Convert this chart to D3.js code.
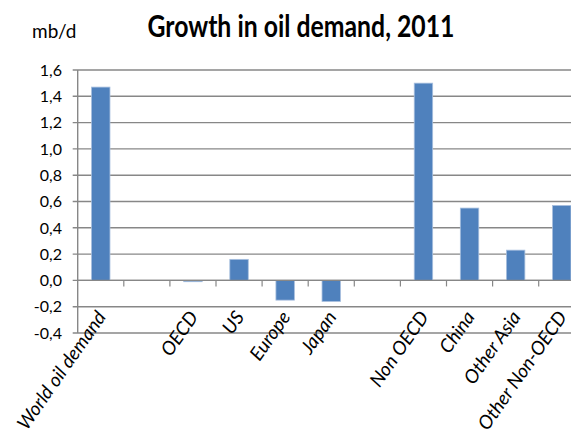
<!DOCTYPE html>
<html>
<head>
<meta charset="utf-8">
<script src="https://cdn.jsdelivr.net/npm/d3@7"></script>
<style>
  html, body { margin: 0; padding: 0; background: #ffffff; }
  svg { display: block; }
  text { font-family: Lato, "Open Sans", sans-serif; fill: #000; }
</style>
</head>
<body>
<svg id="chart" width="571" height="435"></svg>
<script>
// Growth in oil demand, 2011 (mb/d)
const categories = ["World oil demand", "", "OECD", "US", "Europe", "Japan", "", "Non OECD", "China", "Other Asia", "Other Non-OECD"];
const values = [1.47, null, -0.01, 0.16, -0.15, -0.16, null, 1.50, 0.55, 0.23, 0.57];
const yTicks = [-0.4, -0.2, 0.0, 0.2, 0.4, 0.6, 0.8, 1.0, 1.2, 1.4, 1.6];
const titleText = "Growth in oil demand, 2011";
const unitText = "mb/d";

const svg = d3.select("#chart");
const plotLeft = 77.7, plotRight = 584.8, plotTop = 70, plotBottom = 333;

const x = d3.scaleBand().domain(d3.range(categories.length)).range([plotLeft, plotRight]).padding(0);
const y = d3.scaleLinear().domain([-0.4, 1.6]).range([plotBottom, plotTop]);
const fmt = v => d3.format(".1f")(v).replace("−", "-").replace(".", ",");

const gridColor = "#878787";

// horizontal gridlines
svg.append("g")
  .selectAll("line")
  .data(yTicks)
  .join("line")
  .attr("x1", plotLeft - 5)
  .attr("x2", plotRight)
  .attr("y1", d => y(d))
  .attr("y2", d => y(d))
  .attr("stroke", gridColor)
  .attr("stroke-width", 1.4);

// value axis line
svg.append("line")
  .attr("x1", plotLeft).attr("x2", plotLeft)
  .attr("y1", y(1.6)).attr("y2", y(-0.4))
  .attr("stroke", gridColor).attr("stroke-width", 1.4);

// y tick labels
svg.append("g")
  .selectAll("text")
  .data(yTicks)
  .join("text")
  .attr("x", 62)
  .attr("y", d => y(d))
  .attr("dy", "0.36em")
  .attr("text-anchor", "end")
  .style("font-size", "16px")
  .text(fmt);

// category tick marks below the zero line
svg.append("g")
  .selectAll("line")
  .data(d3.range(1, categories.length))
  .join("line")
  .attr("x1", i => x(i))
  .attr("x2", i => x(i))
  .attr("y1", y(0))
  .attr("y2", y(0) + 6)
  .attr("stroke", gridColor)
  .attr("stroke-width", 1.2);

// bars
const barW = x.bandwidth() * 0.4;
svg.append("g")
  .selectAll("rect")
  .data(values.map((v, i) => ({ v, i })).filter(d => d.v !== null))
  .join("rect")
  .attr("x", d => x(d.i) + x.bandwidth() / 2 - barW / 2)
  .attr("width", barW)
  .attr("y", d => Math.min(y(d.v), y(0)))
  .attr("height", d => Math.abs(y(d.v) - y(0)))
  .attr("fill", "#4f81bd")
  .attr("stroke", "#a7bfde")
  .attr("stroke-width", 0.8);

// zero line (category axis)
svg.append("line")
  .attr("x1", plotLeft).attr("x2", plotRight)
  .attr("y1", y(0)).attr("y2", y(0))
  .attr("stroke", gridColor).attr("stroke-width", 1.4);

// rotated category labels
svg.append("g")
  .selectAll("text")
  .data(categories.map((c, i) => ({ c, i })).filter(d => d.c !== ""))
  .join("text")
  .attr("transform", d => `translate(${x(d.i) + x.bandwidth() / 2 + 6},317) rotate(-55)`)
  .attr("text-anchor", "end")
  .style("font-size", "19px")
  .style("font-style", "italic")
  .text(d => d.c);

// title and unit
svg.append("text")
  .attr("x", 301)
  .attr("y", 37)
  .attr("text-anchor", "middle")
  .style("font-size", "30px")
  .style("font-weight", "bold")
  .attr("textLength", 307)
  .attr("lengthAdjust", "spacingAndGlyphs")
  .text(titleText);

svg.append("text")
  .attr("x", 32)
  .attr("y", 38)
  .style("font-size", "19px")
  .text(unitText);
</script>
</body>
</html>
